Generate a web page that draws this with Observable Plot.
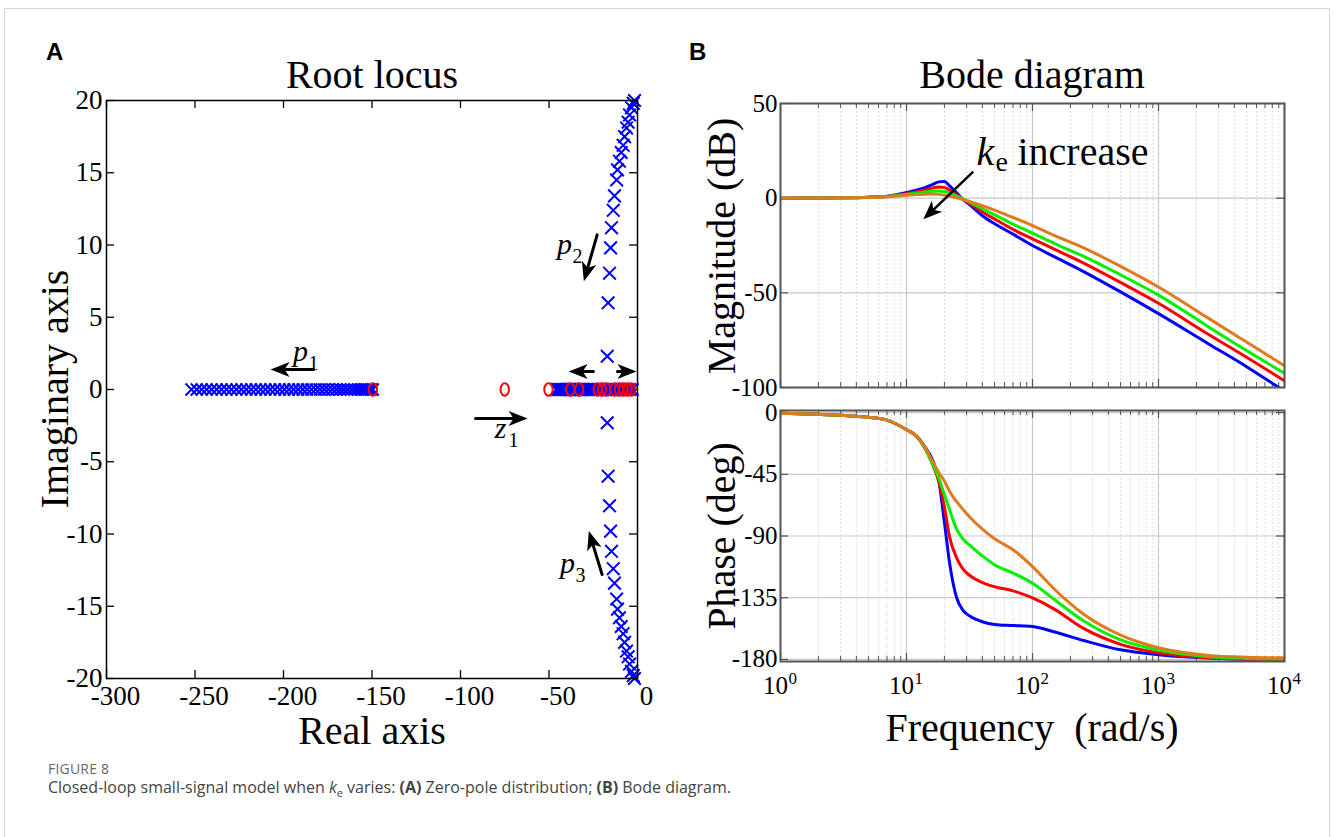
<!DOCTYPE html>
<html>
<head>
<meta charset="utf-8">
<script src="https://cdn.jsdelivr.net/npm/d3@7"></script>
<script src="https://cdn.jsdelivr.net/npm/@observablehq/plot@0.6"></script>
<style>
  body { margin: 0; background: #fff; }
  #page { position: relative; width: 1333px; height: 837px; overflow: hidden; background: #fff;
          font-family: "Liberation Serif", "Times New Roman", serif; color: #000; }
  .box { position: absolute; left: 4px; top: 8px; width: 1324px; height: 900px; border: 1px solid #d6d6d6; }
  .panel { position: absolute; font-family: "Liberation Sans", Arial, sans-serif; font-weight: bold;
           font-size: 24px; line-height: 1; }
  .lbl { position: absolute; white-space: pre; font-size: 40px; line-height: 1; transform: translate(-50%, -50%); }
  .vlbl { position: absolute; white-space: pre; font-size: 40px; line-height: 1;
          transform: translate(-50%, -50%) rotate(-90deg); }
  .chart { position: absolute; }
  .fig { position: absolute; left: 48px; top: 759px; font-family: "Open Sans", sans-serif; font-size: 14px;
         color: #666; letter-spacing: 0.2px; }
  .cap { position: absolute; left: 48px; top: 776px; font-family: "Open Sans", sans-serif; font-size: 16px;
         color: #444; white-space: nowrap; }
  .cap sub { font-size: 11px; }
</style>
</head>
<body>
<div id="page">
  <div class="box"></div>
  <div class="panel" style="left:46px;top:40px">A</div>
  <div class="panel" style="left:689px;top:40px">B</div>

  <div class="lbl" style="left:372px;top:75px">Root locus</div>
  <div class="lbl" style="left:1032px;top:75px">Bode diagram</div>
  <div class="vlbl" style="left:55px;top:389px">Imaginary axis</div>
  <div class="lbl" style="left:372px;top:731px">Real axis</div>
  <div class="vlbl" style="left:722px;top:246px">Magnitude (dB)</div>
  <div class="vlbl" style="left:722px;top:536px">Phase (deg)</div>
  <div class="lbl" style="left:1032px;top:728px">Frequency  (rad/s)</div>

  <div id="rl" class="chart" style="left:0px;top:90px"></div>
  <div id="mag" class="chart" style="left:680px;top:93px"></div>
  <div id="ph" class="chart" style="left:680px;top:400px"></div>

  <div class="fig">FIGURE 8</div>
  <div class="cap">Closed-loop small-signal model when <i>k</i><sub>e</sub> varies: <b>(A)</b> Zero-pole distribution; <b>(B)</b> Bode diagram.</div>
</div>

<script>
// ---------------- Root locus data ----------------
const rlXTicks = [-300, -250, -200, -150, -100, -50, 0];
const rlYTicks = [20, 15, 10, 5, 0, -5, -10, -15, -20];

// real pole p1 moving left as ke grows
const p1Re = [-252, -249, -246.2, -243.4, -240.6, -237.8, -235, -232.2, -229.4, -226.6, -223.8, -221,
  -218.3, -215.6, -212.9, -210.2, -207.5, -204.8, -202.1, -199.5, -196.9, -194.3, -191.7, -189.2,
  -186.7, -184.2, -181.8, -179.4, -177, -174.7, -172.4, -170.2, -168, -165.9, -163.8, -161.8,
  -159.9, -158.1, -156.4, -154.8, -153.3, -151.9, -150.6, -149.5];

// real poles crowded near the origin
const clusterRe = [-46, -45.2, -44.4, -43.6, -42.8, -42, -41.2, -40.4, -39.6, -38.8, -38, -37.2,
  -36.4, -35.6, -34.8, -34, -33.2, -32.4, -31.6, -30.8, -30, -28.8, -27.6, -26.4, -25.2, -24,
  -22.5, -21, -19.5, -18, -16.5, -15, -13.5, -12, -10.5, -9, -7.5, -6, -4.5, -3];

// complex pole pair p2 / p3
const p2Re = [-17.1, -16.6, -15.8, -15.2, -14.7, -13.7, -13.0, -11.8, -11.3, -10.2, -9.2, -8.1, -7.3, -6.2, -5.3, -4.5, -3.4, -2.4, -1.7];
const p2Im = [2.3, 6.0, 8.05, 9.8, 11.2, 12.4, 13.4, 14.5, 15.2, 15.8, 16.4, 16.9, 17.5, 18.1, 18.5, 19.0, 19.5, 19.8, 20.0];
const p3Re = [-17.1, -16.6, -15.8, -15.2, -14.7, -13.7, -13.0, -11.8, -11.3, -10.2, -9.2, -8.1, -7.3, -6.2, -5.3, -4.5, -3.4, -2.4, -1.7];
const p3Im = [-2.3, -6.0, -8.05, -9.8, -11.2, -12.4, -13.4, -14.5, -15.2, -15.8, -16.4, -16.9, -17.5, -18.1, -18.5, -19.0, -19.5, -19.8, -20.0];

// zeros
const zeroRe = [-149.5, -75, -50.3, -38, -33, -22.5, -20, -17.5, -13, -10.5, -8, -5.5, -3.5];

// annotation arrows and labels (data units)
const rlArrows = [
  {x1: -183, y1: 1.38, x2: -207.3, y2: 1.38},
  {x1: -91.5, y1: -2.0, x2: -62.1, y2: -2.0},
  {x1: -24.9, y1: 1.25, x2: -38.9, y2: 1.25},
  {x1: -11.3, y1: 1.25, x2: -0.6, y2: 1.25},
  {x1: -22.8, y1: 10.7, x2: -30.3, y2: 7.5},
  {x1: -20.0, y1: -12.8, x2: -27.5, y2: -9.8}
];
const rlLabels = [
  {x: -190.4, y: 2.28, name: "p", sub: "1"},
  {x: -77.4, y: -3.05, name: "z", sub: "1"},
  {x: -41.2, y: 9.69, name: "p", sub: "2"},
  {x: -39.5, y: -12.4, name: "p", sub: "3"}
];

// ---------------- Bode data ----------------
const freq = [1, 2, 3, 5, 7, 10, 12, 14, 16, 18, 20, 22, 25, 28, 32, 40, 50, 70, 100, 150, 250, 500, 1000, 2500, 5000, 10000];

const magBlue   = [0, 0.1, 0.2, 0.5, 1.0, 3.0, 4.2, 5.5, 7.1, 8.6, 8.8, 6.5, 2.8, -0.6, -3.6, -9.3, -13.5, -19, -25, -31, -38.5, -49.5, -61, -77, -89, -102];
const magRed    = [0, 0.1, 0.2, 0.5, 0.9, 2.4, 3.3, 4.3, 5.3, 5.9, 5.6, 4.3, 1.8, -0.6, -3.0, -7.3, -11, -16.5, -21.5, -27, -34, -44.5, -55.5, -72, -84, -96.5];
const magGreen  = [0, 0.1, 0.2, 0.5, 0.9, 2.0, 2.6, 3.2, 3.6, 3.8, 3.5, 2.8, 1.2, -0.4, -2.2, -5.6, -8.8, -13.7, -18.5, -24, -30.5, -40.5, -51.2, -68, -80.5, -92.5];
const magOrange = [0, 0.1, 0.2, 0.4, 0.8, 1.5, 1.9, 2.1, 2.2, 2.0, 1.6, 1.1, 0.2, -0.7, -1.9, -4.0, -6.3, -10.2, -14.5, -19.8, -26, -36, -46.9, -63.5, -76, -88.5];

const phBlue   = [-0.5, -1.3, -2.0, -3.5, -5.5, -12.5, -17, -25, -34, -49, -80, -110, -135, -144, -148.5, -152.5, -154.5, -155.3, -156, -160, -166, -173, -176.5, -179, -180, -180.5];
const phRed    = [-0.5, -1.3, -2.0, -3.5, -5.5, -12.5, -17.5, -26, -37, -50, -69, -91, -106, -114, -119, -124, -127, -130, -135.2, -143.5, -157, -169, -175.2, -178.8, -179.8, -180.3];
const phGreen  = [-0.5, -1.3, -2.0, -3.5, -5.5, -12.5, -17, -26, -37, -47.5, -60, -71, -85, -92, -97, -104.5, -111, -117, -124.4, -136.5, -151.5, -165.8, -173.2, -178, -179.3, -179.8];
const phOrange = [-0.5, -1.3, -2.0, -3.5, -5.5, -12.5, -17, -25, -35, -43.5, -50, -57.5, -65, -70.5, -76.5, -85, -92, -100, -112.3, -129, -146.5, -162.3, -171.5, -177.1, -178.4, -178.8];

const decades = [1, 10, 100, 1000, 10000];
const decadeExp = ["0", "1", "2", "3", "4"];
const minorFreq = [2, 3, 4, 5, 6, 7, 8, 9, 20, 30, 40, 50, 60, 70, 80, 90,
  200, 300, 400, 500, 600, 700, 800, 900, 2000, 3000, 4000, 5000, 6000, 7000, 8000, 9000];
const magTicks = [50, 0, -50, -100];
const phaseTicks = [0, -45, -90, -135, -180];

const keArrow = [{x1: 33.4, y1: 13.6, x2: 13.6, y2: -11.2}];
const keLabel = [{x: 35.9, y: 24.1}];

// ---------------- shared styling ----------------
const serif = '"Liberation Serif", "Times New Roman", serif';
const BLUE = "#0000ff", RED = "#ff0000", GREEN = "#00f000", ORANGE = "#e07a1f";

// filled arrowhead pointing up, tip at the origin
const dart = {
  draw(ctx) {
    const L = 19, W = 15, N = 14;
    ctx.moveTo(0, 0);
    ctx.lineTo(W / 2, L);
    ctx.lineTo(0, N);
    ctx.lineTo(-W / 2, L);
    ctx.closePath();
  }
};
// upright ellipse used for the zeros
const ovalSymbol = {
  draw(ctx) {
    const rx = 4.2, ry = 6.2, k = 0.5523;
    ctx.moveTo(rx, 0);
    ctx.bezierCurveTo(rx, ry * k, rx * k, ry, 0, ry);
    ctx.bezierCurveTo(-rx * k, ry, -rx, ry * k, -rx, 0);
    ctx.bezierCurveTo(-rx, -ry * k, -rx * k, -ry, 0, -ry);
    ctx.bezierCurveTo(rx * k, -ry, rx, -ry * k, rx, 0);
    ctx.closePath();
  }
};
const headAngle = (sx, sy) => d =>
  Math.atan2(sx(d.x2) - sx(d.x1), -(sy(d.y2) - sy(d.y1))) * 180 / Math.PI;

// ---------------- Root locus ----------------
const RL = {w: 660, h: 640, ml: 106, mr: 23, mt: 10, mb: 52};
const rlW = RL.w - RL.ml - RL.mr, rlH = RL.h - RL.mt - RL.mb;
const rlSx = d3.scaleLinear([-300, 0], [RL.ml, RL.w - RL.mr]);
const rlSy = d3.scaleLinear([-20, 20], [RL.h - RL.mb, RL.mt]);

const rootLocus = Plot.plot({
  width: RL.w, height: RL.h,
  marginLeft: RL.ml, marginRight: RL.mr, marginTop: RL.mt, marginBottom: RL.mb,
  x: {domain: [-300, 0], axis: null},
  y: {domain: [-20, 20], axis: null},
  style: {background: "transparent", overflow: "visible", fontFamily: serif, color: "#000"},
  marks: [
    Plot.ruleX(rlXTicks, {x: d => d, insetTop: rlH - 8, stroke: "#000", strokeWidth: 1.3}),
    Plot.ruleX(rlXTicks, {x: d => d, insetBottom: rlH - 8, stroke: "#000", strokeWidth: 1.3}),
    Plot.ruleY(rlYTicks, {y: d => d, insetRight: rlW - 8, stroke: "#000", strokeWidth: 1.3}),
    Plot.ruleY(rlYTicks, {y: d => d, insetLeft: rlW - 8, stroke: "#000", strokeWidth: 1.3}),
    Plot.dot(p1Re, {x: d => d, y: 0, symbol: "times", r: 5.5, stroke: BLUE, strokeWidth: 2}),
    Plot.dot(clusterRe, {x: d => d, y: 0, symbol: "times", r: 5.8, stroke: BLUE, strokeWidth: 2}),
    Plot.dot(p2Re, {x: d => d, y: (d, i) => p2Im[i], symbol: "times", r: 5.8, stroke: BLUE, strokeWidth: 2}),
    Plot.dot(p3Re, {x: d => d, y: (d, i) => p3Im[i], symbol: "times", r: 5.8, stroke: BLUE, strokeWidth: 2}),
    Plot.dot(zeroRe, {x: d => d, y: 0, symbol: ovalSymbol, r: 6, stroke: RED, fill: "none", strokeWidth: 2}),
    Plot.arrow(rlArrows, {x1: "x1", y1: "y1", x2: "x2", y2: "y2", headLength: 0, insetEnd: 12,
      stroke: "#000", strokeWidth: 3}),
    Plot.dot(rlArrows, {x: "x2", y: "y2", symbol: dart, r: 8, fill: "#000", stroke: "none",
      rotate: headAngle(rlSx, rlSy)}),
    Plot.text(rlLabels, {x: "x", y: "y", text: "name", fontStyle: "italic", fontSize: 30,
      fontFamily: serif, dy: -5, fill: "#000"}),
    Plot.text(rlLabels, {x: "x", y: "y", text: "sub", fontSize: 20, fontFamily: serif,
      dx: 13, dy: 7, fill: "#000"}),
    Plot.frame({stroke: "#000", strokeWidth: 1.5}),
    Plot.axisX(rlXTicks, {anchor: "bottom", tickSize: 0, tickPadding: 7, fontSize: 27, dx: 9,
      label: null, tickFormat: d => String(d)}),
    Plot.axisY(rlYTicks, {anchor: "left", tickSize: 0, tickPadding: 4, fontSize: 27,
      label: null, tickFormat: d => String(d)})
  ]
});
document.getElementById("rl").append(rootLocus);

// ---------------- Bode ----------------
const BX = {w: 640, ml: 100, mr: 36};
const bW = BX.w - BX.ml - BX.mr;
const rows = vals => freq.map((w, i) => ({w, v: vals[i]}));
const curves = (blue, red, green, orange) => [
  [blue, BLUE], [red, RED], [green, GREEN], [orange, ORANGE]
].map(([vals, color]) => Plot.line(rows(vals), {x: "w", y: "v", stroke: color, strokeWidth: 3,
  curve: "monotone-x", clip: true}));

function bodeGrid(yTicks, frameH) {
  return [
    Plot.ruleX(minorFreq, {x: d => d, stroke: "#d4d4d4", strokeDasharray: "1.5,2.5", strokeWidth: 1}),
    Plot.ruleX(decades, {x: d => d, stroke: "#c8c8c8", strokeWidth: 1.2}),
    Plot.ruleY(yTicks, {y: d => d, stroke: "#c8c8c8", strokeWidth: 1.2}),
    Plot.ruleX(decades, {x: d => d, insetTop: frameH - 8, stroke: "#555", strokeWidth: 1.2}),
    Plot.ruleX(decades, {x: d => d, insetBottom: frameH - 8, stroke: "#555", strokeWidth: 1.2}),
    Plot.ruleX(minorFreq, {x: d => d, insetTop: frameH - 5, stroke: "#555", strokeWidth: 1}),
    Plot.ruleX(minorFreq, {x: d => d, insetBottom: frameH - 5, stroke: "#555", strokeWidth: 1}),
    Plot.ruleY(yTicks, {y: d => d, insetRight: bW - 8, stroke: "#555", strokeWidth: 1.2}),
    Plot.ruleY(yTicks, {y: d => d, insetLeft: bW - 8, stroke: "#555", strokeWidth: 1.2})
  ];
}

const MAG = {h: 300, mt: 10, mb: 6};
const magH = MAG.h - MAG.mt - MAG.mb;
const magSx = d3.scaleLog([1, 10000], [BX.ml, BX.w - BX.mr]);
const magSy = d3.scaleLinear([-100, 50], [MAG.h - MAG.mb, MAG.mt]);

const magnitude = Plot.plot({
  width: BX.w, height: MAG.h,
  marginLeft: BX.ml, marginRight: BX.mr, marginTop: MAG.mt, marginBottom: MAG.mb,
  x: {type: "log", domain: [1, 10000], axis: null},
  y: {domain: [-100, 50], axis: null},
  style: {background: "transparent", overflow: "visible", fontFamily: serif, color: "#000"},
  marks: [
    ...bodeGrid(magTicks, magH),
    ...curves(magBlue, magRed, magGreen, magOrange),
    Plot.arrow(keArrow, {x1: "x1", y1: "y1", x2: "x2", y2: "y2", headLength: 0, insetEnd: 12,
      stroke: "#000", strokeWidth: 2.5}),
    Plot.dot(keArrow, {x: "x2", y: "y2", symbol: dart, r: 8, fill: "#000", stroke: "none",
      rotate: headAngle(magSx, magSy)}),
    Plot.text(keLabel, {x: "x", y: "y", text: () => "k", fontStyle: "italic", fontSize: 40,
      fontFamily: serif, textAnchor: "start", fill: "#000"}),
    Plot.text(keLabel, {x: "x", y: "y", text: () => "e", fontSize: 28, fontFamily: serif,
      textAnchor: "start", dx: 19, dy: 9, fill: "#000"}),
    Plot.text(keLabel, {x: "x", y: "y", text: () => "increase", fontSize: 40, fontFamily: serif,
      textAnchor: "start", dx: 41, fill: "#000"}),
    Plot.frame({stroke: "#555", strokeWidth: 2}),
    Plot.axisY(magTicks, {anchor: "left", tickSize: 0, tickPadding: 3, fontSize: 25,
      label: null, tickFormat: d => String(d)})
  ]
});
document.getElementById("mag").append(magnitude);

const PH = {h: 330, mt: 10, mb: 69};
const phH = PH.h - PH.mt - PH.mb;

const phase = Plot.plot({
  width: BX.w, height: PH.h,
  marginLeft: BX.ml, marginRight: BX.mr, marginTop: PH.mt, marginBottom: PH.mb,
  x: {type: "log", domain: [1, 10000], axis: null},
  y: {domain: [-181.5, 1.5], axis: null},
  style: {background: "transparent", overflow: "visible", fontFamily: serif, color: "#000"},
  marks: [
    ...bodeGrid(phaseTicks, phH),
    ...curves(phBlue, phRed, phGreen, phOrange),
    Plot.frame({stroke: "#555", strokeWidth: 2}),
    Plot.axisY(phaseTicks, {anchor: "left", tickSize: 0, tickPadding: 3, fontSize: 25,
      label: null, tickFormat: d => String(d)}),
    Plot.text(decades, {x: d => d, frameAnchor: "bottom", text: () => "10", fontSize: 25,
      fontFamily: serif, dy: 32, dx: -5, fill: "#000"}),
    Plot.text(decades, {x: d => d, frameAnchor: "bottom", text: (d, i) => decadeExp[i], fontSize: 17,
      fontFamily: serif, dy: 22, dx: 8, textAnchor: "start", fill: "#000"})
  ]
});
document.getElementById("ph").append(phase);
</script>
</body>
</html>
